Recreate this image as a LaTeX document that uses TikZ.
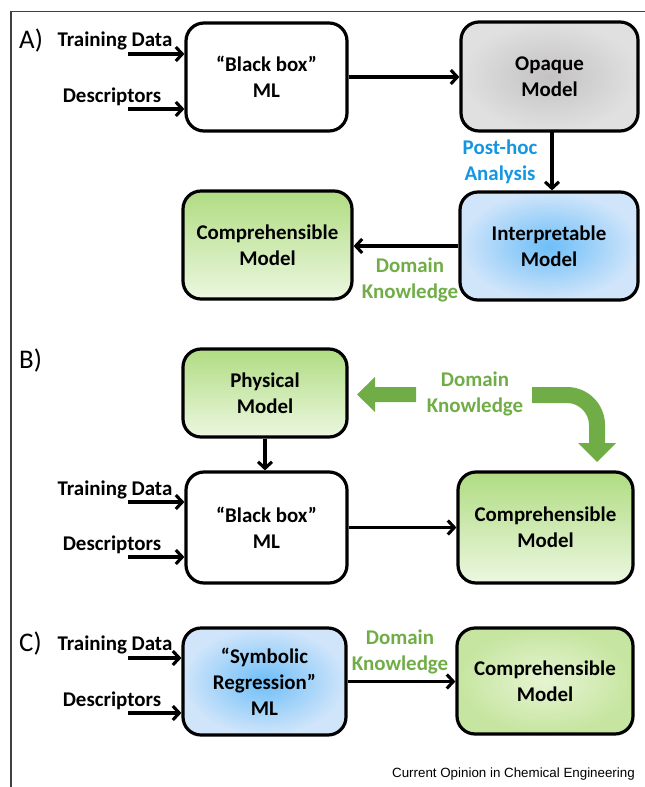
\documentclass[tikz,border=0pt]{standalone}
\usepackage{fontspec}
\setmainfont{Carlito}
\newfontfamily\footfont{Liberation Sans}
\usetikzlibrary{arrows.meta}

\definecolor{dkgreen}{RGB}{112,173,71}
\definecolor{phblue}{RGB}{20,150,225}
\definecolor{greytop}{RGB}{196,194,194}
\definecolor{greyedge}{RGB}{224,224,224}
\definecolor{bluein}{RGB}{110,190,248}
\definecolor{blueout}{RGB}{208,229,250}
\definecolor{greentop}{RGB}{176,220,130}
\definecolor{greenbot}{RGB}{236,247,224}
\definecolor{greenin}{RGB}{230,244,210}
\definecolor{greenout}{RGB}{198,229,160}

\begin{document}
\begin{tikzpicture}[x=1bp,y=-1bp,
  box/.style={draw, line width=3.2bp, rounded corners=18bp, align=center,
    font=\bfseries\fontsize{21}{26}\selectfont, inner sep=0pt},
  whitebox/.style={box, fill=white},
  greybox/.style={box, inner color=greytop, outer color=greyedge},
  bluebox/.style={box, inner color=bluein, outer color=blueout},
  greenbox/.style={box, top color=greentop, bottom color=greenbot},
  greenradial/.style={box, inner color=greenin, outer color=greenout},
  arr/.style={line width=3.1bp, -{Straight Barb[length=6.5bp,width=14bp]}},
  inlabel/.style={font=\bfseries\fontsize{21}{26}\selectfont, inner sep=0pt, anchor=base},
  panel/.style={font=\fontsize{27}{30}\selectfont, inner sep=0pt, anchor=base west},
  knowledge/.style={font=\bfseries\fontsize{21}{26}\selectfont, text=dkgreen, align=center, inner sep=0pt},
  blockarrow/.style={fill=dkgreen, draw=none}
]
\useasboundingbox (0,0) rectangle (645,787);

% outer frame (top and left rules only)
\draw[line width=1.3bp, black!75] (645,11.5) -- (11,11.5) -- (11,787);

% ---------------- panel A ----------------
\node[panel] (labA) at (19,49) {A)};
\node[whitebox, minimum width=161bp, minimum height=108bp] (bbA) at (266.5,77) {“Black box”\\ML};
\node[greybox, minimum width=177bp, minimum height=109bp] (opq) at (549.5,76.5) {Opaque\\Model};
\node[bluebox, minimum width=178bp, minimum height=108bp] (intp) at (549,246) {Interpretable\\Model};
\node[greenbox, minimum width=169bp, minimum height=108bp] (compA) at (267.5,245) {Comprehensible\\Model};

\node[inlabel] (tdA) at (115,47) {Training Data};
\node[inlabel] (dsA) at (112,102) {Descriptors};
\coordinate (tdAs) at (128,54);
\coordinate (dsAs) at (128,109);
\draw[arr] (tdAs) -- (tdAs -| bbA.west);
\draw[arr] (dsAs) -- (dsAs -| bbA.west);

\draw[arr] (bbA.east) -- (bbA.east -| opq.west);
\coordinate (phs) at (552,131);
\draw[arr] (phs) -- (phs |- intp.north);
\node[knowledge, text=phblue] (posthoc) at (500,162) {Post-hoc\\Analysis};
\draw[arr] (intp.west) -- (intp.west -| compA.east);
\node[knowledge] (dkA) at (410,280) {Domain\\Knowledge};

% ---------------- panel B ----------------
\node[panel] (labB) at (19,368) {B)};
\node[greenbox, minimum width=164bp, minimum height=88bp] (phys) at (265,393) {Physical\\Model};
\node[whitebox, minimum width=161bp, minimum height=111bp] (bbB) at (266.5,527.5) {“Black box”\\ML};
\node[greenbox, minimum width=175bp, minimum height=111bp] (compB) at (545.5,527.5) {Comprehensible\\Model};

\node[inlabel] (tdB) at (115,495) {Training Data};
\node[inlabel] (dsB) at (112,550) {Descriptors};
\coordinate (tdBs) at (128,502);
\coordinate (dsBs) at (128,557);
\draw[arr] (tdBs) -- (tdBs -| bbB.west);
\draw[arr] (dsBs) -- (dsBs -| bbB.west);

\draw[arr] (phys.south) -- (phys.south |- bbB.north);
\draw[arr] (bbB.east) -- (compB.west);

\node[knowledge] (dkB) at (475,394) {Domain\\Knowledge};
% thick arrow towards the physical model
\fill[blockarrow] (416,387) -- (375,387) -- (375,377) -- (357,394.5) -- (375,412)
  -- (375,402) -- (416,402) -- cycle;
% thick bent arrow towards the comprehensible model
\fill[blockarrow] (532,387) -- (567,387) .. controls (588,387) and (605,404) .. (605,425)
  -- (605,443) -- (616,443) -- (597,462) -- (578,443) -- (589,443) -- (589,425)
  .. controls (589,413) and (579,403) .. (567,403) -- (532,403) -- cycle;

% ---------------- panel C ----------------
\node[panel] (labC) at (19,651) {C)};
\node[bluebox, minimum width=163bp, minimum height=107bp] (sym) at (264.5,681.5) {“Symbolic\\Regression”\\ML};
\node[greenradial, minimum width=176bp, minimum height=106bp] (compC) at (545,681) {Comprehensible\\Model};

\node[inlabel] (tdC) at (115,650) {Training Data};
\node[inlabel] (dsC) at (112,706) {Descriptors};
\coordinate (tdCs) at (128,658);
\coordinate (dsCs) at (128,713);
\draw[arr] (tdCs) -- (tdCs -| sym.west);
\draw[arr] (dsCs) -- (dsCs -| sym.west);

\draw[arr] (sym.east) -- (sym.east -| compC.west);
\node[knowledge] (dkC) at (400,652) {Domain\\Knowledge};

% source line
\node[font=\footfont\fontsize{13.4}{15}\selectfont, anchor=base east, inner sep=0pt] (src) at (635,777)
  {Current Opinion in Chemical Engineering};
\end{tikzpicture}
\end{document}
